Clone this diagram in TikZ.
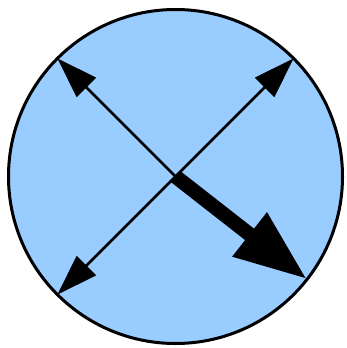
\documentclass[tikz,border=0pt]{standalone}
\usepackage{tikz}
\usepackage{xcolor}
\usetikzlibrary{arrows.meta}
\definecolor{skyfill}{HTML}{99CCFF}

\begin{document}
\begin{tikzpicture}[x=1pt,y=-1pt]
			\useasboundingbox (0,0) rectangle (346,348);
			\node[draw, circle, line width=3pt, fill=skyfill, minimum size=334pt, inner sep=0pt, outer sep=0pt] (disk) at (175.5,176.5) {};
			\coordinate (mid) at (disk.center);

			\draw[line width=2.5pt, -{Triangle[length=41pt,width=27pt]}] (mid)--(disk.135);
			\draw[line width=2.5pt, {Triangle[length=41pt,width=27pt]}-{Triangle[length=41pt,width=27pt]}] (disk.-135)--(disk.45);
			\draw[line width=14.5pt, -{Triangle[length=73pt,width=52pt]}] (mid)--(disk.-38.7);
		\end{tikzpicture}
\end{document}
